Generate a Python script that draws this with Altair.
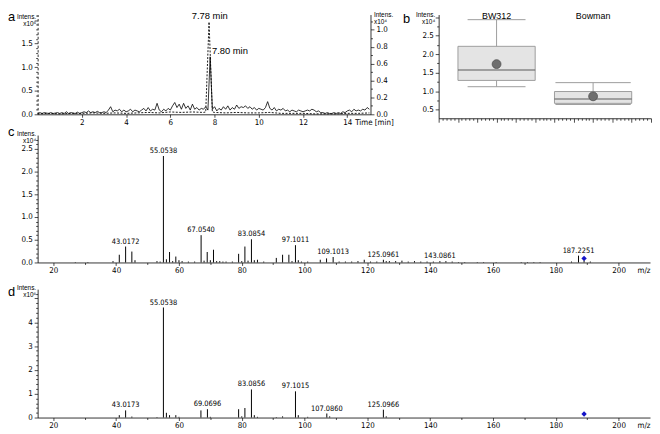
import altair as alt
import pandas as pd

# ======================= DATA =======================
# (a) extracted ion chromatograms
# solid trace (right axis, x10^4), sampled every 0.1 min from 0 to 15 min
trace_solid = [
    0.01, 0.02, 0.01, 0.02, 0.015, 0.01, 0.02, 0.01, 0.015, 0.02,
    0.01, 0.02, 0.01, 0.03, 0.01, 0.02, 0.015, 0.01, 0.025, 0.01,
    0.02, 0.03, 0.02, 0.04, 0.02, 0.03, 0.02, 0.035, 0.02, 0.02,
    0.03, 0.02, 0.05, 0.09, 0.03, 0.05, 0.04, 0.06, 0.03, 0.05,
    0.03, 0.04, 0.06, 0.03, 0.05, 0.04, 0.03, 0.05, 0.07, 0.04,
    0.08, 0.04, 0.06, 0.05, 0.13, 0.05, 0.03, 0.06, 0.04, 0.07,
    0.05, 0.10, 0.14, 0.08, 0.12, 0.06, 0.13, 0.07, 0.10, 0.05,
    0.12, 0.06, 0.08, 0.05, 0.07, 0.06, 0.09, 0.05, 0.68, 0.06,
    0.09, 0.04, 0.07, 0.05, 0.09, 0.06, 0.10, 0.05, 0.08, 0.06,
    0.11, 0.07, 0.09, 0.08, 0.10, 0.07, 0.09, 0.06, 0.08, 0.05,
    0.07, 0.06, 0.05, 0.08, 0.15, 0.07, 0.05, 0.08, 0.04, 0.06,
    0.05, 0.07, 0.04, 0.05, 0.03, 0.05, 0.04, 0.03, 0.05, 0.04,
    0.03, 0.04, 0.05, 0.04, 0.06, 0.05, 0.03, 0.04, 0.02, 0.02,
    0.01, 0.02, 0.01, 0.01, 0.02, 0.01, 0.02, 0.01, 0.03, 0.02,
    0.04, 0.05, 0.03, 0.06, 0.04, 0.05, 0.04, 0.06, 0.05, 0.08,
    0.06,
]
trace_solid_t = [round(i * 0.1, 1) for i in range(len(trace_solid))]

# dotted trace (left axis, x10^6)
trace_dotted_t = [0.0, 0.5, 1.0, 1.5, 2.0, 2.5, 3.0, 3.5, 4.0, 4.5, 5.0, 5.5,
                  6.0, 6.5, 7.0, 7.5, 7.6, 7.75, 7.9, 8.0, 8.5, 9.0, 9.5, 10.0,
                  10.5, 11.0, 11.5, 12.0, 12.5, 13.0, 13.5, 14.0, 14.5, 15.0]
trace_dotted = [0.01, 0.02, 0.01, 0.02, 0.02, 0.03, 0.02, 0.03, 0.02, 0.03, 0.04, 0.03,
                0.05, 0.04, 0.05, 0.04, 0.05, 1.96, 0.05, 0.04, 0.03, 0.04, 0.03, 0.03,
                0.04, 0.02, 0.02, 0.02, 0.01, 0.01, 0.01, 0.02, 0.02, 0.03]

rt_label_text = ["7.78 min", "7.80 min"]
rt_label_t = [7.78, 7.88]
rt_label_v = [1.96, 0.75]

# (b) box plot summary (x10^4)
groups = ["BW312", "Bowman"]
group_pos = [3, 8]
whisk_lo = [1.12, 0.64]
q1 = [1.29, 0.67]
median = [1.57, 0.79]
q3 = [2.21, 0.99]
whisk_hi = [2.93, 1.23]
mean = [1.73, 0.86]

# (c) MS spectrum (x10^4)
mz_c = [27.0, 31.0, 39.0, 41.0, 43.0172, 45.0, 46.0, 53.0, 54.0, 55.0538, 56.0, 57.0,
        58.0, 59.0, 60.0, 61.0, 63.0, 65.0, 67.0540, 68.0, 69.0, 70.0, 71.0, 72.0,
        73.0, 74.0, 75.0, 77.0, 79.0, 80.0, 81.0, 82.0, 83.0854, 84.0, 85.0, 87.0,
        91.0, 93.0, 95.0, 96.0, 97.1011, 98.0, 99.0, 101.0, 105.0, 107.0, 109.1013,
        111.0, 113.0, 115.0, 117.0, 119.0, 121.0, 123.0, 125.0961, 126.0, 127.0,
        129.0, 131.0, 133.0, 135.0, 137.0, 139.0, 141.0, 143.0861, 145.0, 147.0,
        149.0, 151.0, 155.0, 157.0, 161.0, 169.0, 171.0, 173.0, 175.0, 185.0,
        187.2251, 189.0, 191.0]
int_c = [0.01, 0.01, 0.03, 0.17, 0.35, 0.24, 0.05, 0.03, 0.02, 2.34, 0.07, 0.23,
         0.03, 0.13, 0.05, 0.03, 0.02, 0.02, 0.60, 0.04, 0.23, 0.05, 0.28, 0.03,
         0.03, 0.02, 0.02, 0.02, 0.19, 0.03, 0.35, 0.04, 0.51, 0.05, 0.06, 0.02,
         0.10, 0.17, 0.17, 0.03, 0.38, 0.05, 0.02, 0.02, 0.06, 0.09, 0.12,
         0.02, 0.02, 0.02, 0.03, 0.06, 0.02, 0.02, 0.06, 0.03, 0.03,
         0.03, 0.04, 0.02, 0.03, 0.02, 0.02, 0.02, 0.03, 0.03, 0.02,
         0.01, 0.01, 0.01, 0.01, 0.01, 0.01, 0.01, 0.01, 0.01, 0.02,
         0.15, 0.05, 0.02]
labels_c = ["43.0172", "55.0538", "67.0540", "83.0854", "97.1011", "109.1013",
            "125.0961", "143.0861", "187.2251"]

# (d) MS spectrum (x10^6)
mz_d = [41.0, 43.0173, 45.0, 53.0, 55.0538, 56.0, 57.0, 59.0, 60.0, 67.0, 69.0696,
        70.0, 79.0, 80.0, 81.0, 83.0856, 84.0, 85.0, 91.0, 93.0, 97.1015, 98.0,
        101.0, 107.0860, 108.0, 125.0966, 126.0]
int_d = [0.10, 0.30, 0.04, 0.02, 4.62, 0.20, 0.10, 0.10, 0.03, 0.30, 0.35,
         0.03, 0.35, 0.05, 0.40, 1.18, 0.10, 0.03, 0.02, 0.05, 1.10, 0.10,
         0.03, 0.17, 0.05, 0.33, 0.05]
labels_d = ["43.0173", "55.0538", "69.0696", "83.0856", "97.1015", "107.0860",
            "125.0966"]

precursor_mz = 189.0
precursor_c = 0.09
precursor_d = 0.15

# ======================= STYLE =======================
FONT_N = "Liberation Sans Narrow, DejaVu Sans Condensed, Arial Narrow, Liberation Sans, sans-serif"
FONT = "Liberation Sans, Arial, sans-serif"


def ax(**kw):
    base = dict(labelFont=FONT_N, labelFontSize=8, labelColor="black", tickColor="black",
                domainColor="black", tickWidth=0.7, domainWidth=0.8, grid=False,
                labelPadding=1, tickSize=3, titleFont=FONT, titleFontSize=6.5,
                titleFontWeight="normal", titleColor="black", titleLineHeight=7.5)
    base.update(kw)
    return alt.Axis(**base)


def is_major(step):
    return f"abs(datum.value/{step} - round(datum.value/{step})) < 0.001"


def tsize(step, big=3.5, small=2):
    return {"condition": {"test": is_major(step), "value": big}, "value": small}


def lexpr(step, vmax, fmt):
    return f"({is_major(step)}) && datum.value <= {vmax} + 0.001 ? format(datum.value, '{fmt}') : ''"


def letter(ch, x, y):
    return alt.Chart(pd.DataFrame({"k": [0]})).mark_text(
        text=ch, font=FONT, fontSize=13, align="left", baseline="alphabetic", color="black"
    ).encode(x=alt.value(x), y=alt.value(y))


# ======================= PANEL A =======================
A_W, A_H = 337, 101
df_sol = pd.DataFrame({"t": trace_solid_t, "v": trace_solid})
df_dot = pd.DataFrame({"t": trace_dotted_t, "v": trace_dotted})
xsc_a = alt.Scale(domain=[0, 15.05], nice=False, zero=False)

x_axis_a = ax(values=[2, 4, 6, 8, 10, 12, 14], format="d",
              title="Time [min]", titleX=321, titleY=4, titleAlign="left",
              titleBaseline="top", titleFont=FONT_N, titleFontSize=8)
left_ticks = [round(i * 0.1, 1) for i in range(0, 22)]
right_ticks = [round(i * 0.1, 1) for i in range(0, 12)]

ysc_left = alt.Scale(domain=[0, 2.117], nice=False)
ysc_right = alt.Scale(domain=[0, 1.18], nice=False)
y_axis_left = ax(orient="left", values=left_ticks, tickSize=tsize(0.5),
                 labelPadding=2, labelExpr=lexpr(0.5, 1.5, ".1f"), domainDash=[2.5, 2],
                 title=["Intens.", "x10⁶"], titleAngle=0, titleAlign="right",
                 titleBaseline="top", titleX=-2, titleY=-1)
y_axis_right = ax(orient="right", values=right_ticks, tickSize=tsize(0.2),
                  labelPadding=2, labelExpr=lexpr(0.2, 1.0, ".1f"),
                  title=["Intens.", "x10⁴"], titleAngle=0, titleAlign="left",
                  titleBaseline="top", titleX=3, titleY=-3)

dot_line = alt.Chart(df_dot).mark_line(color="black", strokeWidth=0.9, strokeDash=[2, 1.5]).encode(
    x=alt.X("t:Q", scale=xsc_a, axis=x_axis_a),
    y=alt.Y("v:Q", scale=ysc_left, axis=y_axis_left),
)
df_lab1 = pd.DataFrame({"t": rt_label_t[:1], "v": rt_label_v[:1], "s": rt_label_text[:1]})
dot_lab = alt.Chart(df_lab1).mark_text(font=FONT, fontSize=9.5, baseline="bottom", dy=-1,
                                       color="black").encode(
    x=alt.X("t:Q", scale=xsc_a, axis=x_axis_a),
    y=alt.Y("v:Q", scale=ysc_left, axis=y_axis_left), text="s:N")
left_layer = alt.layer(dot_line, dot_lab)

sol_line = alt.Chart(df_sol).mark_line(color="black", strokeWidth=0.8).encode(
    x=alt.X("t:Q", scale=xsc_a, axis=x_axis_a),
    y=alt.Y("v:Q", scale=ysc_right, axis=y_axis_right),
)
df_lab2 = pd.DataFrame({"t": rt_label_t[1:], "v": rt_label_v[1:], "s": rt_label_text[1:]})
sol_lab = alt.Chart(df_lab2).mark_text(font=FONT, fontSize=9.5, align="left", baseline="middle",
                                       color="black").encode(
    x=alt.X("t:Q", scale=xsc_a, axis=x_axis_a),
    y=alt.Y("v:Q", scale=ysc_right, axis=y_axis_right), text="s:N")
right_layer = alt.layer(sol_line, sol_lab)

panel_a = alt.layer(left_layer, right_layer, letter("a", -30, 7)).resolve_scale(
    y="independent").properties(width=A_W, height=A_H)

# ======================= PANEL B =======================
B_W, B_H = 215, 105
cap_half = {"BW312": 1.5, "Bowman": 1.95}
df_b = pd.DataFrame({"group": groups, "pos": group_pos, "lo": whisk_lo, "q1": q1,
                     "med": median, "q3": q3, "hi": whisk_hi, "mean": mean})
df_b["bl"] = df_b["pos"] - 2
df_b["br"] = df_b["pos"] + 2
df_b["cl"] = df_b["pos"] - df_b["group"].map(cap_half)
df_b["cr"] = df_b["pos"] + df_b["group"].map(cap_half)

xsc_b = alt.Scale(domain=[0, 11], nice=False, zero=False)
ysc_b = alt.Scale(domain=[0.268, 3.068], nice=False, zero=False)
b_xticks = [round(i * 0.2, 1) for i in range(0, 56)]
b_yticks = [round(0.5 + i * 0.25, 2) for i in range(0, 11)]
x_axis_b = ax(values=b_xticks, labels=False, tickSize=tsize(1, 4, 2), title=None)
y_axis_b = ax(values=b_yticks, tickSize=tsize(0.5), labelPadding=2,
              labelExpr=lexpr(0.5, 2.5, ".1f"),
              title=["Intens.", "x10⁴"], titleAngle=0, titleAlign="right",
              titleBaseline="top", titleX=-4, titleY=-3)


def bx(field):
    return alt.X(field, type="quantitative", scale=xsc_b, axis=x_axis_b)


def by(field):
    return alt.Y(field, type="quantitative", scale=ysc_b, axis=y_axis_b)


base_b = alt.Chart(df_b)
GRAY = "#9c9c9c"
whisk = base_b.mark_rule(color=GRAY, strokeWidth=1).encode(x=bx("pos"), y=by("lo"), y2="hi:Q")
cap_hi = base_b.mark_rule(color=GRAY, strokeWidth=1).encode(x=bx("cl"), x2="cr:Q", y=by("hi"))
cap_lo = base_b.mark_rule(color=GRAY, strokeWidth=1).encode(x=bx("cl"), x2="cr:Q", y=by("lo"))
box = base_b.mark_rect(fill="#e4e4e4", stroke=GRAY, strokeWidth=1).encode(
    x=bx("bl"), x2="br:Q", y=by("q1"), y2="q3:Q")
med = base_b.mark_rule(color="#5a5a5a", strokeWidth=1.1).encode(
    x=bx("bl"), x2="br:Q", y=by("med"))
mn = base_b.mark_point(filled=True, color="#6f6f6f", stroke="#505050", strokeWidth=0.8,
                       size=80, opacity=1).encode(x=bx("pos"), y=by("mean"))
glab = base_b.mark_text(font=FONT, fontSize=9, baseline="top", dy=-3, color="black").encode(
    x=bx("pos"), y=alt.Y(datum=3.068, scale=ysc_b, axis=y_axis_b), text="group:N")

panel_b = alt.layer(whisk, box, cap_hi, cap_lo, med, mn, glab, letter("b", -36, 9)).properties(
    width=B_W, height=B_H)


# ======================= PANELS C / D =======================
def spectrum(mz, inten, labels, ytop, ystep_minor, ystep_major, ylab_max, exp_txt,
             prec_y, ch, ch_y, height):
    df = pd.DataFrame({"mz": mz, "inten": inten})
    df["lab"] = [f"{m:.4f}" if f"{m:.4f}" in labels else "" for m in mz]
    dfl = df[df["lab"] != ""]
    xsc = alt.Scale(domain=[15, 210], nice=False, zero=False)
    ysc = alt.Scale(domain=[0, ytop], nice=False)
    n = int(round(ytop / ystep_minor))
    yt = [round(i * ystep_minor, 2) for i in range(0, n + 1) if i * ystep_minor <= ytop]
    fmt = ".1f" if ystep_major < 1 else "d"
    xax = ax(values=list(range(20, 210, 10)), tickSize=tsize(20, 3, 2),
             labelExpr="datum.value % 20 === 0 ? datum.label : ''",
             title="m/z", titleX=620, titleY=4, titleAlign="right",
             titleBaseline="top", titleFont=FONT_N, titleFontSize=8)
    yax = ax(values=yt, tickSize=tsize(ystep_major), labelPadding=2,
             labelExpr=lexpr(ystep_major, ylab_max, fmt),
             title=["Intens.", exp_txt], titleAngle=0, titleAlign="right",
             titleBaseline="top", titleX=-2, titleY=-5)
    X = alt.X("mz:Q", scale=xsc, axis=xax)
    sticks = alt.Chart(df).mark_rule(color="black", strokeWidth=1).encode(
        x=X, y=alt.Y("inten:Q", scale=ysc, axis=yax), y2=alt.datum(0))
    txt = alt.Chart(dfl).mark_text(font=FONT_N, fontSize=7.5, baseline="bottom", dy=-1,
                                   color="black").encode(
        x=X, y=alt.Y("inten:Q", scale=ysc, axis=yax), text="lab:N")
    prec = alt.Chart(pd.DataFrame({"mz": [precursor_mz], "inten": [prec_y]})).mark_point(
        shape="diamond", filled=True, color="#1414c8", size=30, opacity=1).encode(
        x=X, y=alt.Y("inten:Q", scale=ysc, axis=yax))
    return alt.layer(sticks, txt, prec, letter(ch, -30, ch_y)).properties(width=620, height=height)


panel_c = spectrum(mz_c, int_c, labels_c, 2.8, 0.1, 0.5, 2.5, "x10⁴", precursor_c, "c", 1, 129)
panel_d = spectrum(mz_d, int_d, labels_d, 5.39, 0.2, 1, 4, "x10⁶", precursor_d, "d", 7, 130)

row1 = alt.hconcat(panel_a, panel_b, spacing=9)
rows_cd = alt.vconcat(panel_c, panel_d, spacing=10)
chart = alt.vconcat(row1, rows_cd, spacing=0).configure(
    font=FONT_N, padding=0
).configure_view(stroke=None)

chart.save("out.html", embed_options={"renderer": "svg", "actions": False})
